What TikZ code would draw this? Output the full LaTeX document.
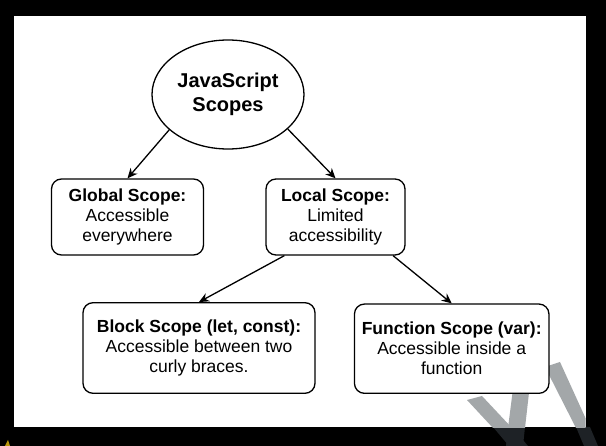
\documentclass[tikz,border=0pt]{standalone}
\usepackage{fontspec}
\setmainfont{Liberation Sans}
\usetikzlibrary{shapes.geometric,arrows.meta,calc}
\definecolor{wmgray}{HTML}{A3A7A9}
\definecolor{wmdark}{HTML}{1E2226}
\definecolor{yellowmark}{HTML}{B8960C}
\begin{document}
\begin{tikzpicture}[x=1pt,y=-1pt,
  box/.style={draw=black,fill=white,line width=1.3pt,rounded corners=10pt,align=center,
    inner sep=0pt,font=\fontsize{17.5}{20}\selectfont},
  oval/.style={draw=black,fill=white,line width=1.3pt,ellipse,align=center,inner sep=0pt,
    font=\fontsize{20}{24}\selectfont\bfseries},
  conn/.style={draw=black,line width=1.3pt,-{Stealth[length=10pt,width=9pt]}}]
\useasboundingbox (0,0) rectangle (606,446);
\fill[black] (0,0) rectangle (606,446);
% faint watermark continuation on the black margin
\fill[wmdark] (493,427) -- (512,427) -- (528,446) -- (509,446) -- cycle;
\fill[wmdark] (508,427) -- (525,427) -- (523,446) -- (506,446) -- cycle;
\fill[wmdark] (576,427) -- (590,427) -- (598,446) -- (584,446) -- cycle;
\fill[white] (13.5,16) rectangle (585.6,427.3);
% watermark fragments
\begin{scope}
  \clip (13.5,16) rectangle (585.6,427.3);
  \fill[wmgray] (467,400) -- (482,396) -- (512,428) -- (493,428) -- cycle;
  \fill[wmgray] (514,381) -- (531,375) -- (525,428) -- (508,428) -- cycle;
  \fill[wmgray] (545,367) -- (560,362) -- (590,428) -- (576,428) -- cycle;
\end{scope}
\fill[yellowmark] (5,446) -- (8,440) -- (10,446) -- cycle;
% nodes
\node[oval,minimum width=152pt,minimum height=109pt] (js) at (228,94.5)
  {JavaScript\\Scopes};
\node[box,minimum width=152pt,minimum height=76pt] (g) at (127.5,217)
  {\textbf{Global Scope:}\\Accessible\\everywhere};
\node[box,minimum width=139pt,minimum height=76pt] (l) at (335.5,217)
  {\textbf{Local Scope:}\\Limited\\accessibility};
\node[box,minimum width=232pt,minimum height=90.6pt] (b) at (199,348)
  {\textbf{Block Scope (let, const):}\\Accessible between two\\curly braces.};
\node[box,minimum width=194.5pt,minimum height=89.3pt] (f) at (451.7,348.7)
  {\textbf{Function Scope (var):}\\Accessible inside a\\function};
% connectors
\draw[conn] (js.211) -- (g.north);
\draw[conn] (js.330) -- (l.north);
\draw[conn] ($(l.south west)+(19,0)$) -- (b.north);
\draw[conn] ($(l.south east)+(-12.6,0)$) -- (f.north);
\end{tikzpicture}
\end{document}
